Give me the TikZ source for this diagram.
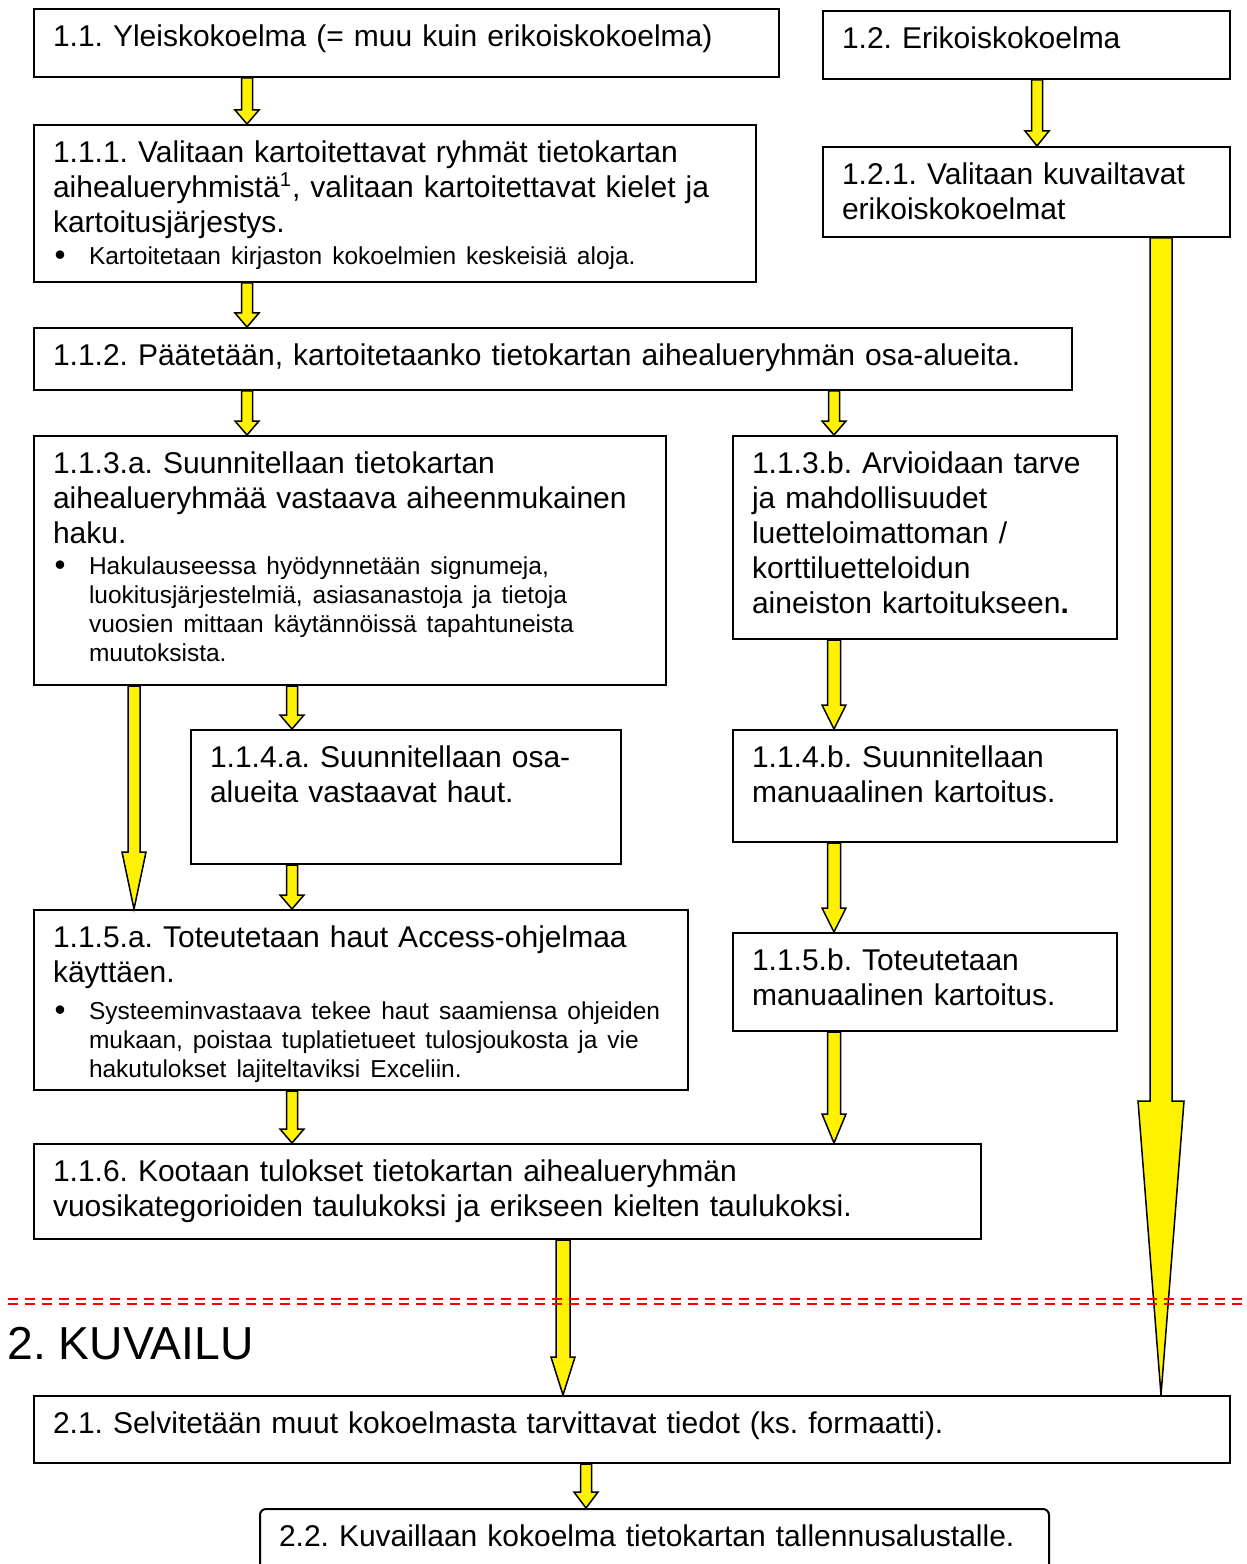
\documentclass[tikz,border=0pt]{standalone}
\usepackage{fontspec}
\setmainfont{Liberation Sans}
\usetikzlibrary{calc}

\newcommand{\bul}[2][1.2pt]{\par\vspace{#1}{\fontsize{9.8}{11.6}\selectfont\noindent
    \hspace*{0.6pt}\makebox[13.8pt][l]{\raisebox{-0.4pt}{\fontsize{12.5}{12.5}\selectfont\textbullet}}%
    \parbox[t]{\dimexpr\linewidth-8pt\relax}{\raggedright #2}\par}}

\begin{document}
\frenchspacing
\begin{tikzpicture}[x=0.4pt, y=-0.4pt,
    box/.style 2 args = {draw, line width=0.8pt, anchor=north west, align=left,
        inner xsep=7.6pt, inner ysep=6pt, text height=9pt,
        text width=#1*0.4pt-15.2pt, text depth=#2*0.4pt-21pt,
        font=\fontsize{12}{14}\selectfont},
    blockarrow/.style n args = {3}{fill=yellow, draw=black, line width=0.6pt,
        to path={let \p1=(\tikztostart), \p2=(\tikztotarget) in
          (\x1-#1*0.4pt,\y1) -- (\x1+#1*0.4pt,\y1) -- (\x1+#1*0.4pt,\y2+#3*0.4pt)
          -- (\x1+#2*0.4pt,\y2+#3*0.4pt) -- (\x1,\y2) -- (\x1-#2*0.4pt,\y2+#3*0.4pt)
          -- (\x1-#1*0.4pt,\y2+#3*0.4pt) -- cycle}},
    shortarrow/.style = {blockarrow={5.5}{12}{14}},
    reddash/.style = {red, line width=0.7pt, dash pattern=on 4pt off 2.8pt}]

    \useasboundingbox (0,0) rectangle (1246,1564);

    % 1. kartoitus
    \node[box={745}{68}]  (b11)   at (33,8)    {1.1. Yleiskokoelma (= muu kuin erikoiskokoelma)};
    \node[box={407}{68}]  (b12)   at (822,10)  {1.2. Erikoiskokoelma};
    \node[box={722}{157}] (b111)  at (33,124)  {1.1.1. Valitaan kartoitettavat ryhmät tietokartan\\
        aihealueryhmistä\textsuperscript{1}, valitaan kartoitettavat kielet ja\\
        kartoitusjärjestys.
        \bul{Kartoitetaan kirjaston kokoelmien keskeisiä aloja.}};
    \node[box={407}{90}]  (b121)  at (822,146) {1.2.1. Valitaan kuvailtavat\\ erikoiskokoelmat};
    \node[box={1038}{62}] (b112)  at (33,327)  {1.1.2. Päätetään, kartoitetaanko tietokartan aihealueryhmän osa-alueita.};
    \node[box={632}{249}] (b113a) at (33,435)  {1.1.3.a. Suunnitellaan tietokartan\\
        aihealueryhmää vastaava aiheenmukainen\\ haku.
        \bul[0.8pt]{Hakulauseessa hyödynnetään signumeja,\\ luokitusjärjestelmiä, asiasanastoja ja tietoja\\
        vuosien mittaan käytännöissä tapahtuneista\\ muutoksista.}};
    \node[box={384}{203}] (b113b) at (732,435) {1.1.3.b. Arvioidaan tarve\\ ja mahdollisuudet\\
        luetteloimattoman /\\ korttiluetteloidun\\ aineiston kartoitukseen\textbf{.}};
    \node[box={430}{134}] (b114a) at (190,729) {1.1.4.a. Suunnitellaan osa-\\ alueita vastaavat haut.};
    \node[box={384}{112}] (b114b) at (732,729) {1.1.4.b. Suunnitellaan\\ manuaalinen kartoitus.};
    \node[box={654}{180}] (b115a) at (33,909)  {1.1.5.a. Toteutetaan haut Access-ohjelmaa\\ käyttäen.
        \bul[3.2pt]{Systeeminvastaava tekee haut saamiensa ohjeiden\\
        mukaan, poistaa tuplatietueet tulosjoukosta ja vie\\ hakutulokset lajiteltaviksi Exceliin.}};
    \node[box={384}{98}]  (b115b) at (732,932) {1.1.5.b. Toteutetaan\\ manuaalinen kartoitus.};
    \node[box={947}{95}]  (b116)  at (33,1143) {1.1.6. Kootaan tulokset tietokartan aihealueryhmän\\
        vuosikategorioiden taulukoksi ja erikseen kielten taulukoksi.};

    % 2. kuvailu
    \node[anchor=base west, inner sep=0pt, font=\fontsize{18.5}{22}\selectfont] (kuvailu) at (7,1359) {2. KUVAILU};
    \node[box={1196}{67}] (b21)   at (33,1395) {2.1. Selvitetään muut kokoelmasta tarvittavat tiedot (ks. formaatti).};
    \node[box={789}{100}, rounded corners=2.4pt] (b22) at (259,1508) {2.2. Kuvaillaan kokoelma tietokartan tallennusalustalle.};

    \draw[shortarrow] (b11.south -| 247,0)   to (b111.north -| 247,0);
    \draw[blockarrow={5.5}{12}{15}] (b12.south -| 1037,0) to (b121.north -| 1037,0);
    \draw[shortarrow] (b111.south -| 247,0)  to (b112.north -| 247,0);
    \draw[shortarrow] (b112.south -| 247,0)  to (b113a.north -| 247,0);
    \draw[shortarrow] (b112.south -| 834,0)  to (b113b.north -| 834,0);
    \draw[blockarrow={6}{12}{57}] (b113a.south -| 134,0) to (b115a.north -| 134,0);
    \draw[shortarrow] (b113a.south -| 292,0) to (b114a.north -| 292,0);
    \draw[shortarrow] (b114a.south -| 292,0) to (b115a.north -| 292,0);
    \draw[blockarrow={6.5}{12}{24}] (b113b.south -| 834,0) to (b114b.north -| 834,0);
    \draw[blockarrow={6.5}{12}{24}] (b114b.south -| 834,0) to (b115b.north -| 834,0);
    \draw[shortarrow] (b115a.south -| 292,0) to (b116.north -| 292,0);
    \draw[blockarrow={6.5}{12}{29}] (b115b.south -| 834,0) to (b116.north -| 834,0);
    \draw[blockarrow={7}{12}{38}] (b116.south -| 563,0) to (b21.north -| 563,0);
    \draw[blockarrow={11}{23}{294}] (b121.south -| 1161,0) to (b21.north -| 1161,0);
    \draw[blockarrow={5.5}{12}{16}] (b21.south -| 586,0) to (b22.north -| 586,0);

    \draw[reddash] (8,1299) -- (1246,1299);
    \draw[reddash] (8,1304) -- (1246,1304);
\end{tikzpicture}
\end{document}
